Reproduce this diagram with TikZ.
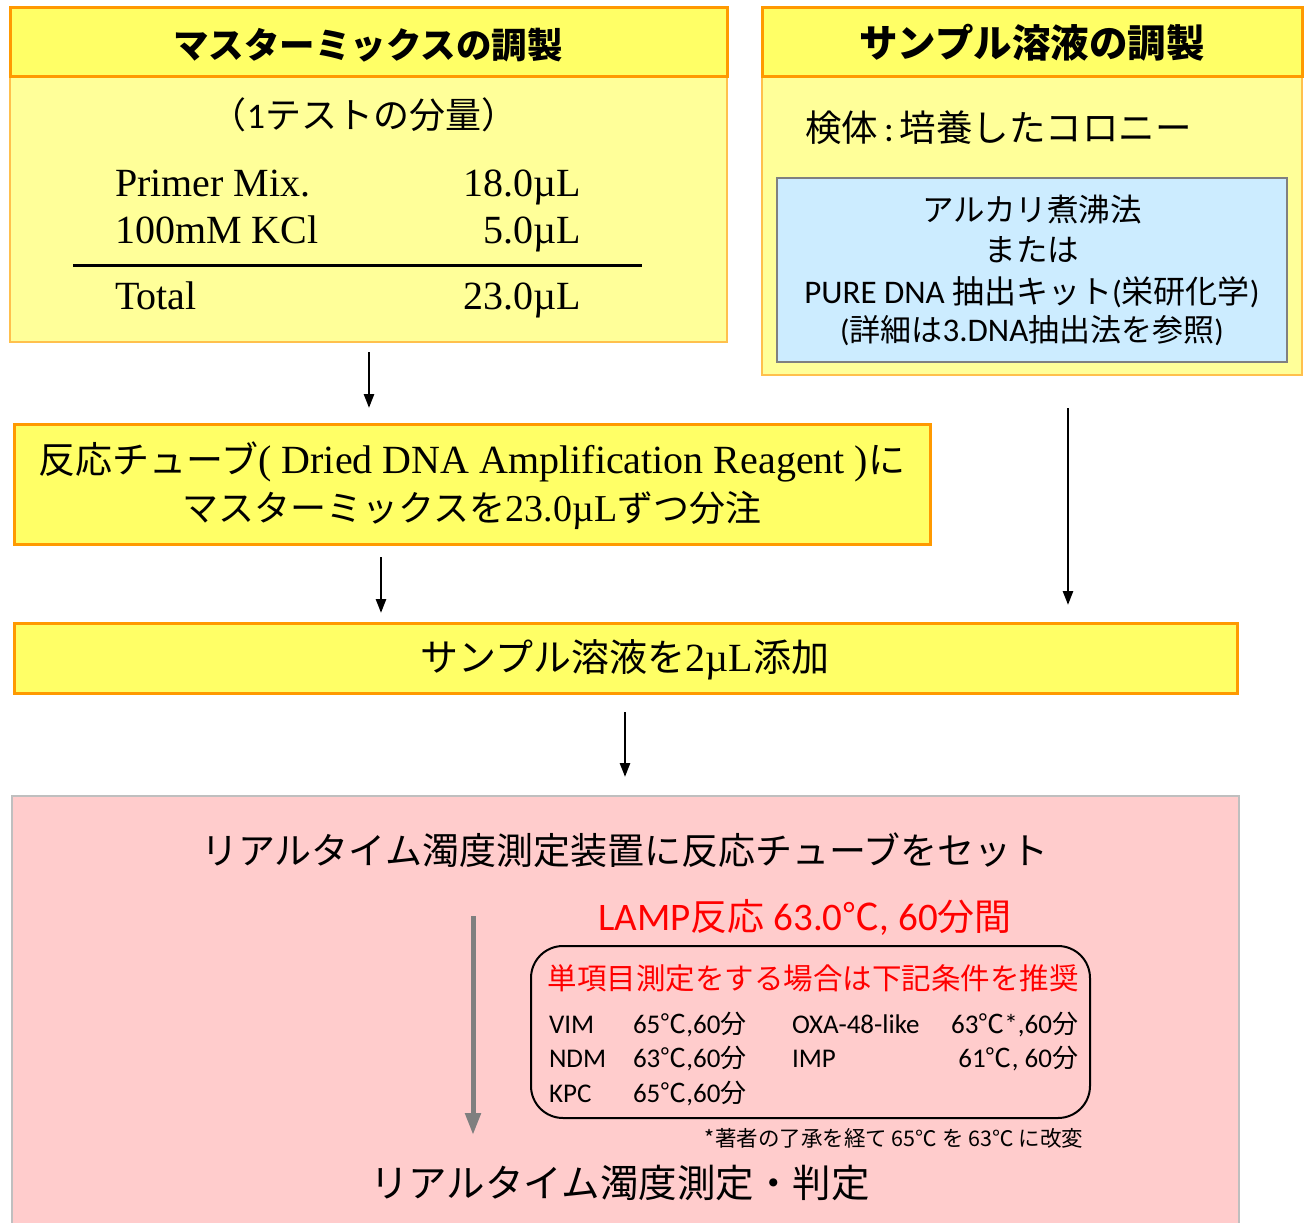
\documentclass[tikz,border=0pt]{standalone}
\usepackage{fontspec}
\setmainfont{Liberation Serif}
\newfontfamily\jp{Noto Sans CJK JP}
\newfontfamily\lat{Carlito}
\usetikzlibrary{arrows.meta}
\definecolor{hdr}{HTML}{FFFF66}
\definecolor{bodyy}{HTML}{FFFF99}
\definecolor{orng}{HTML}{FF9900}
\definecolor{lorng}{HTML}{FFC04D}
\definecolor{pinkbg}{HTML}{FFCCCC}
\definecolor{bluebg}{HTML}{CCECFF}
\definecolor{grayar}{HTML}{7F7F7F}
\newcommand\myjp[1]{{\jp #1}}
\newcommand\mylat[1]{{\lat #1}}
\tikzset{
  boxnode/.style={anchor=north west, inner sep=0pt, outer sep=0pt},
  hdrbox/.style={boxnode, fill=hdr, draw=orng, line width=3pt},
  bodybox/.style={boxnode, fill=bodyy, draw=lorng, line width=1.2pt},
  txt/.style={inner sep=0pt, outer sep=0pt},
  arr/.style={line width=2.6pt, -{Triangle[length=14pt,width=10pt]}},
  garr/.style={line width=5pt, draw=grayar, -{Triangle[length=22pt,width=15pt]}},
}
\begin{document}
\begin{tikzpicture}[x=1pt,y=-1pt]
\clip (0,0) rectangle (1307,1223);
\fill[white] (0,0) rectangle (1307,1223);

% master mix box
\node[bodybox, minimum width=717pt, minimum height=265pt] (mbody) at (10,77) {};
\node[hdrbox, minimum width=717pt, minimum height=69pt] (mhdr) at (10,8) {};
\node[txt] (mtitle) at (368,45) {\jp\bfseries\fontsize{35.5}{40}\selectfont マスターミックスの調製};
\node[txt] (mqty) at (364,115) {\jp\fontsize{36}{40}\selectfont （\mylat{1}テストの分量）};
\node[txt, anchor=base west] (r1l) at (115,196) {\fontsize{40}{44}\selectfont Primer Mix.};
\node[txt, anchor=base east] (r1r) at (581,196) {\fontsize{40}{44}\selectfont 18.0µL};
\node[txt, anchor=base west] (r2l) at (115,243) {\fontsize{40}{44}\selectfont 100mM KCl};
\node[txt, anchor=base east] (r2r) at (581,243) {\fontsize{40}{44}\selectfont 5.0µL};
\coordinate (ruleL) at (73,265);
\coordinate (ruleR) at (642,265);
\draw[line width=3pt] (ruleL) -- (ruleR);
\node[txt, anchor=base west] (r3l) at (115,309) {\fontsize{40}{44}\selectfont Total};
\node[txt, anchor=base east] (r3r) at (581,309) {\fontsize{40}{44}\selectfont 23.0µL};

% sample box
\node[bodybox, minimum width=540pt, minimum height=298pt] (sbody) at (762,77) {};
\node[hdrbox, minimum width=540pt, minimum height=69pt] (shdr) at (762,8) {};
\node[txt] (stitle) at (1032,43) {\jp\bfseries\fontsize{38.5}{42}\selectfont サンプル溶液の調製};
\node[txt, anchor=west] (spec) at (805,128) {\jp\fontsize{36.5}{40}\selectfont 検体\mylat{\,:\,}培養したコロニー};
\node[boxnode, fill=bluebg, draw=gray, line width=2pt, minimum width=510pt, minimum height=184pt] (blue) at (777,178) {};
\node[txt] (b1) at (1032,210) {\jp\fontsize{31.5}{34}\selectfont アルカリ煮沸法};
\node[txt] (b2) at (1032,250) {\jp\fontsize{31.5}{34}\selectfont または};
\node[txt] (b3) at (1032,292) {\jp\fontsize{32}{34}\selectfont \mylat{\fontsize{33}{34}\selectfont PURE DNA }抽出キット\mylat{(}栄研化学\mylat{)}};
\node[txt] (b4) at (1032,331) {\jp\fontsize{31}{34}\selectfont \mylat{(}詳細は\mylat{\fontsize{33}{34}\selectfont 3.DNA}抽出法を参照\mylat{)}};

% tube box
\node[hdrbox, minimum width=916pt, minimum height=120pt] (tube) at (14,424) {};
\node[txt] (t1) at (472,462) {\fontsize{40}{44}\selectfont \myjp{\fontsize{37}{40}\selectfont 反応チューブ}( Dried DNA Amplification Reagent )\myjp{\fontsize{37}{40}\selectfont に}};
\node[txt] (t2) at (472,510) {\fontsize{38}{44}\selectfont \myjp{\fontsize{36}{40}\selectfont マスターミックスを}23.0µL\myjp{\fontsize{36}{40}\selectfont ずつ分注}};

% add sample box
\node[hdrbox, minimum width=1223pt, minimum height=70pt] (add) at (14,623) {};
\node[txt] (addt) at (625,660) {\fontsize{40}{44}\selectfont \myjp{\fontsize{38}{40}\selectfont サンプル溶液を}2µL\myjp{\fontsize{38}{40}\selectfont 添加}};

% arrows
\coordinate (a1s) at (369,352); \coordinate (a1e) at (369,408);
\coordinate (a2s) at (381,557); \coordinate (a2e) at (381,613);
\coordinate (a3s) at (1068,408); \coordinate (a3e) at (1068,605);
\coordinate (a4s) at (625,712); \coordinate (a4e) at (625,777);
\draw[arr] (a1s) -- (a1e);
\draw[arr] (a2s) -- (a2e);
\draw[arr] (a3s) -- (a3e);
\draw[arr] (a4s) -- (a4e);

% pink box
\node[boxnode, fill=pinkbg, draw=black!25, line width=2pt, minimum width=1227pt, minimum height=440pt] (pink) at (12,796) {};
\node[txt] (p1) at (625,850) {\jp\fontsize{37}{40}\selectfont リアルタイム濁度測定装置に反応チューブをセット};
\coordinate (gs) at (473,916); \coordinate (ge) at (473,1135);
\draw[garr] (gs) -- (ge);
\node[txt, text=red] (lamp) at (805,917) {\lat\fontsize{39}{42}\selectfont LAMP\myjp{\fontsize{37}{40}\selectfont 反応} 63.0\myjp{\fontsize{37}{40}\selectfont ℃}, 60\myjp{\fontsize{37}{40}\selectfont 分間}};
\node[boxnode, draw=black, line width=2pt, rounded corners=32pt, minimum width=559pt, minimum height=172pt] (cond) at (531,946) {};
\node[txt, text=red] (condt) at (813,978) {\jp\fontsize{29.5}{32}\selectfont 単項目測定をする場合は下記条件を推奨};
\tikzset{rowf/.style={txt, font=\lat\fontsize{27}{30}\selectfont}}
\node[rowf, anchor=base west] (c1) at (549,1033) {VIM};
\node[rowf, anchor=base west] (c1v) at (633,1033) {65\myjp{\fontsize{26}{30}\selectfont ℃},60\myjp{\fontsize{26}{30}\selectfont 分}};
\node[rowf, anchor=base west] (c2) at (549,1067) {NDM};
\node[rowf, anchor=base west] (c2v) at (633,1067) {63\myjp{\fontsize{26}{30}\selectfont ℃},60\myjp{\fontsize{26}{30}\selectfont 分}};
\node[rowf, anchor=base west] (c3) at (549,1102) {KPC};
\node[rowf, anchor=base west] (c3v) at (633,1102) {65\myjp{\fontsize{26}{30}\selectfont ℃},60\myjp{\fontsize{26}{30}\selectfont 分}};
\node[rowf, anchor=base west] (c4) at (792,1033) {OXA-48-like};
\node[rowf, anchor=base east] (c4v) at (1078,1033) {63\myjp{\fontsize{26}{30}\selectfont ℃}*,60\myjp{\fontsize{26}{30}\selectfont 分}};
\node[rowf, anchor=base west] (c5) at (792,1067) {IMP};
\node[rowf, anchor=base east] (c5v) at (1078,1067) {61\myjp{\fontsize{26}{30}\selectfont ℃}, 60\myjp{\fontsize{26}{30}\selectfont 分}};
\node[txt, anchor=base east] (foot) at (1083,1146) {\jp\fontsize{21.5}{24}\selectfont *著者の了承を経て 65℃ を 63℃ に改変};
\node[txt] (final) at (620,1183) {\jp\fontsize{38.5}{42}\selectfont リアルタイム濁度測定・判定};
\end{tikzpicture}
\end{document}
